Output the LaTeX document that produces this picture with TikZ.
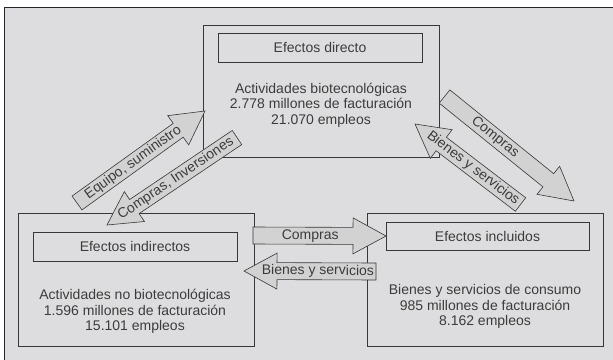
\documentclass[tikz,border=0pt]{standalone}
\usepackage{fontspec}
\setmainfont{Liberation Sans}
\usetikzlibrary{calc}
\definecolor{bgc}{RGB}{221,221,223}
\definecolor{arrc}{RGB}{210,210,210}
\definecolor{linec}{RGB}{55,55,55}
\definecolor{txtc}{RGB}{60,60,60}
\tikzset{
  bigbox/.style={draw=linec, line width=0.9pt, fill=bgc, inner sep=0pt, minimum width=236pt, minimum height=133pt},
  titlebox/.style={draw=linec, line width=0.9pt, fill=bgc, inner sep=0pt, text=txtc, font=\fontsize{14}{15.3}\selectfont},
  bodytext/.style={inner sep=0pt, align=center, text=txtc, font=\fontsize{14}{15.3}\selectfont},
  blockarr/.style={draw=linec, line width=0.6pt, fill=arrc, line join=miter},
  arrlabel/.style={inner sep=0pt, text=txtc, font=\fontsize{14}{15.3}\selectfont}
}
\newcommand\blockarrow[4]{%
  \filldraw[blockarr] let \p1=($(#2)-(#1)$), \n1={atan2(\y1,\x1)}, \n2={veclen(\x1,\y1)-33} in
    ($(#1)+(\n1+90:8.5pt)$) -- ($(#1)+(\n1:\n2)+(\n1+90:8.5pt)$) --
    ($(#1)+(\n1:\n2)+(\n1+90:18pt)$) -- (#2) --
    ($(#1)+(\n1:\n2)+(\n1-90:18pt)$) -- ($(#1)+(\n1:\n2)+(\n1-90:8.5pt)$) --
    ($(#1)+(\n1-90:8.5pt)$) -- cycle;
  \path (#1) -- (#2) node[pos=#3, sloped, arrlabel] {#4};
}
\begin{document}
\begin{tikzpicture}[x=1pt, y=-1pt]
\useasboundingbox (0,0) rectangle (613,359);
\fill[white] (0,0) rectangle (613,359);
\filldraw[fill=bgc, draw=black!85, line width=1.5pt] (4.5,7.5) rectangle (625,375);

% top box
\node[bigbox, minimum height=132pt] (D) at (321,91) {};
\node[titlebox, minimum width=204pt, minimum height=29pt] (Dt) at (320,47.5) {Efectos directo};
\node[bodytext] (Db) at (321,105) {Actividades biotecnológicas\\2.778 millones de facturación\\21.070 empleos};

% left box
\node[bigbox] (I) at (136,279.5) {};
\node[titlebox, minimum width=204pt, minimum height=29pt] (It) at (135,246.5) {Efectos indirectos};
\node[bodytext] (Ib) at (135,311.5) {Actividades no biotecnológicas\\1.596 millones de facturación\\15.101 empleos};

% right box
\node[bigbox] (C) at (485,279.5) {};
\node[titlebox, minimum width=203pt, minimum height=28pt] (Ct) at (487.5,236) {Efectos incluidos};
\node[bodytext] (Cb) at (485,306.5) {Bienes y servicios de consumo\\985 millones de facturación\\8.162 empleos};

% arrow end points
\coordinate (a1t) at (77,203);    \coordinate (a1h) at (205,111);
\coordinate (a2t) at (237,137.5); \coordinate (a2h) at (107,225);
\coordinate (a3t) at (444.5,96.5);\coordinate (a3h) at (574,201);
\coordinate (a4t) at (520.5,204.5);\coordinate (a4h) at (415,124);
\coordinate (a5t) at (253,235.5); \coordinate (a5h) at (386,236);
\coordinate (a6t) at (376,271.5); \coordinate (a6h) at (244,271);

\blockarrow{a1t}{a1h}{0.44}{Equipo, suministro}
\blockarrow{a2t}{a2h}{0.47}{Compras, Inversiones}
\blockarrow{a3t}{a3h}{0.39}{Compras}
\blockarrow{a4t}{a4h}{0.45}{Bienes y servicios}
\blockarrow{a5t}{a5h}{0.43}{Compras}
\blockarrow{a6t}{a6h}{0.44}{Bienes y servicios}
\end{tikzpicture}
\end{document}
